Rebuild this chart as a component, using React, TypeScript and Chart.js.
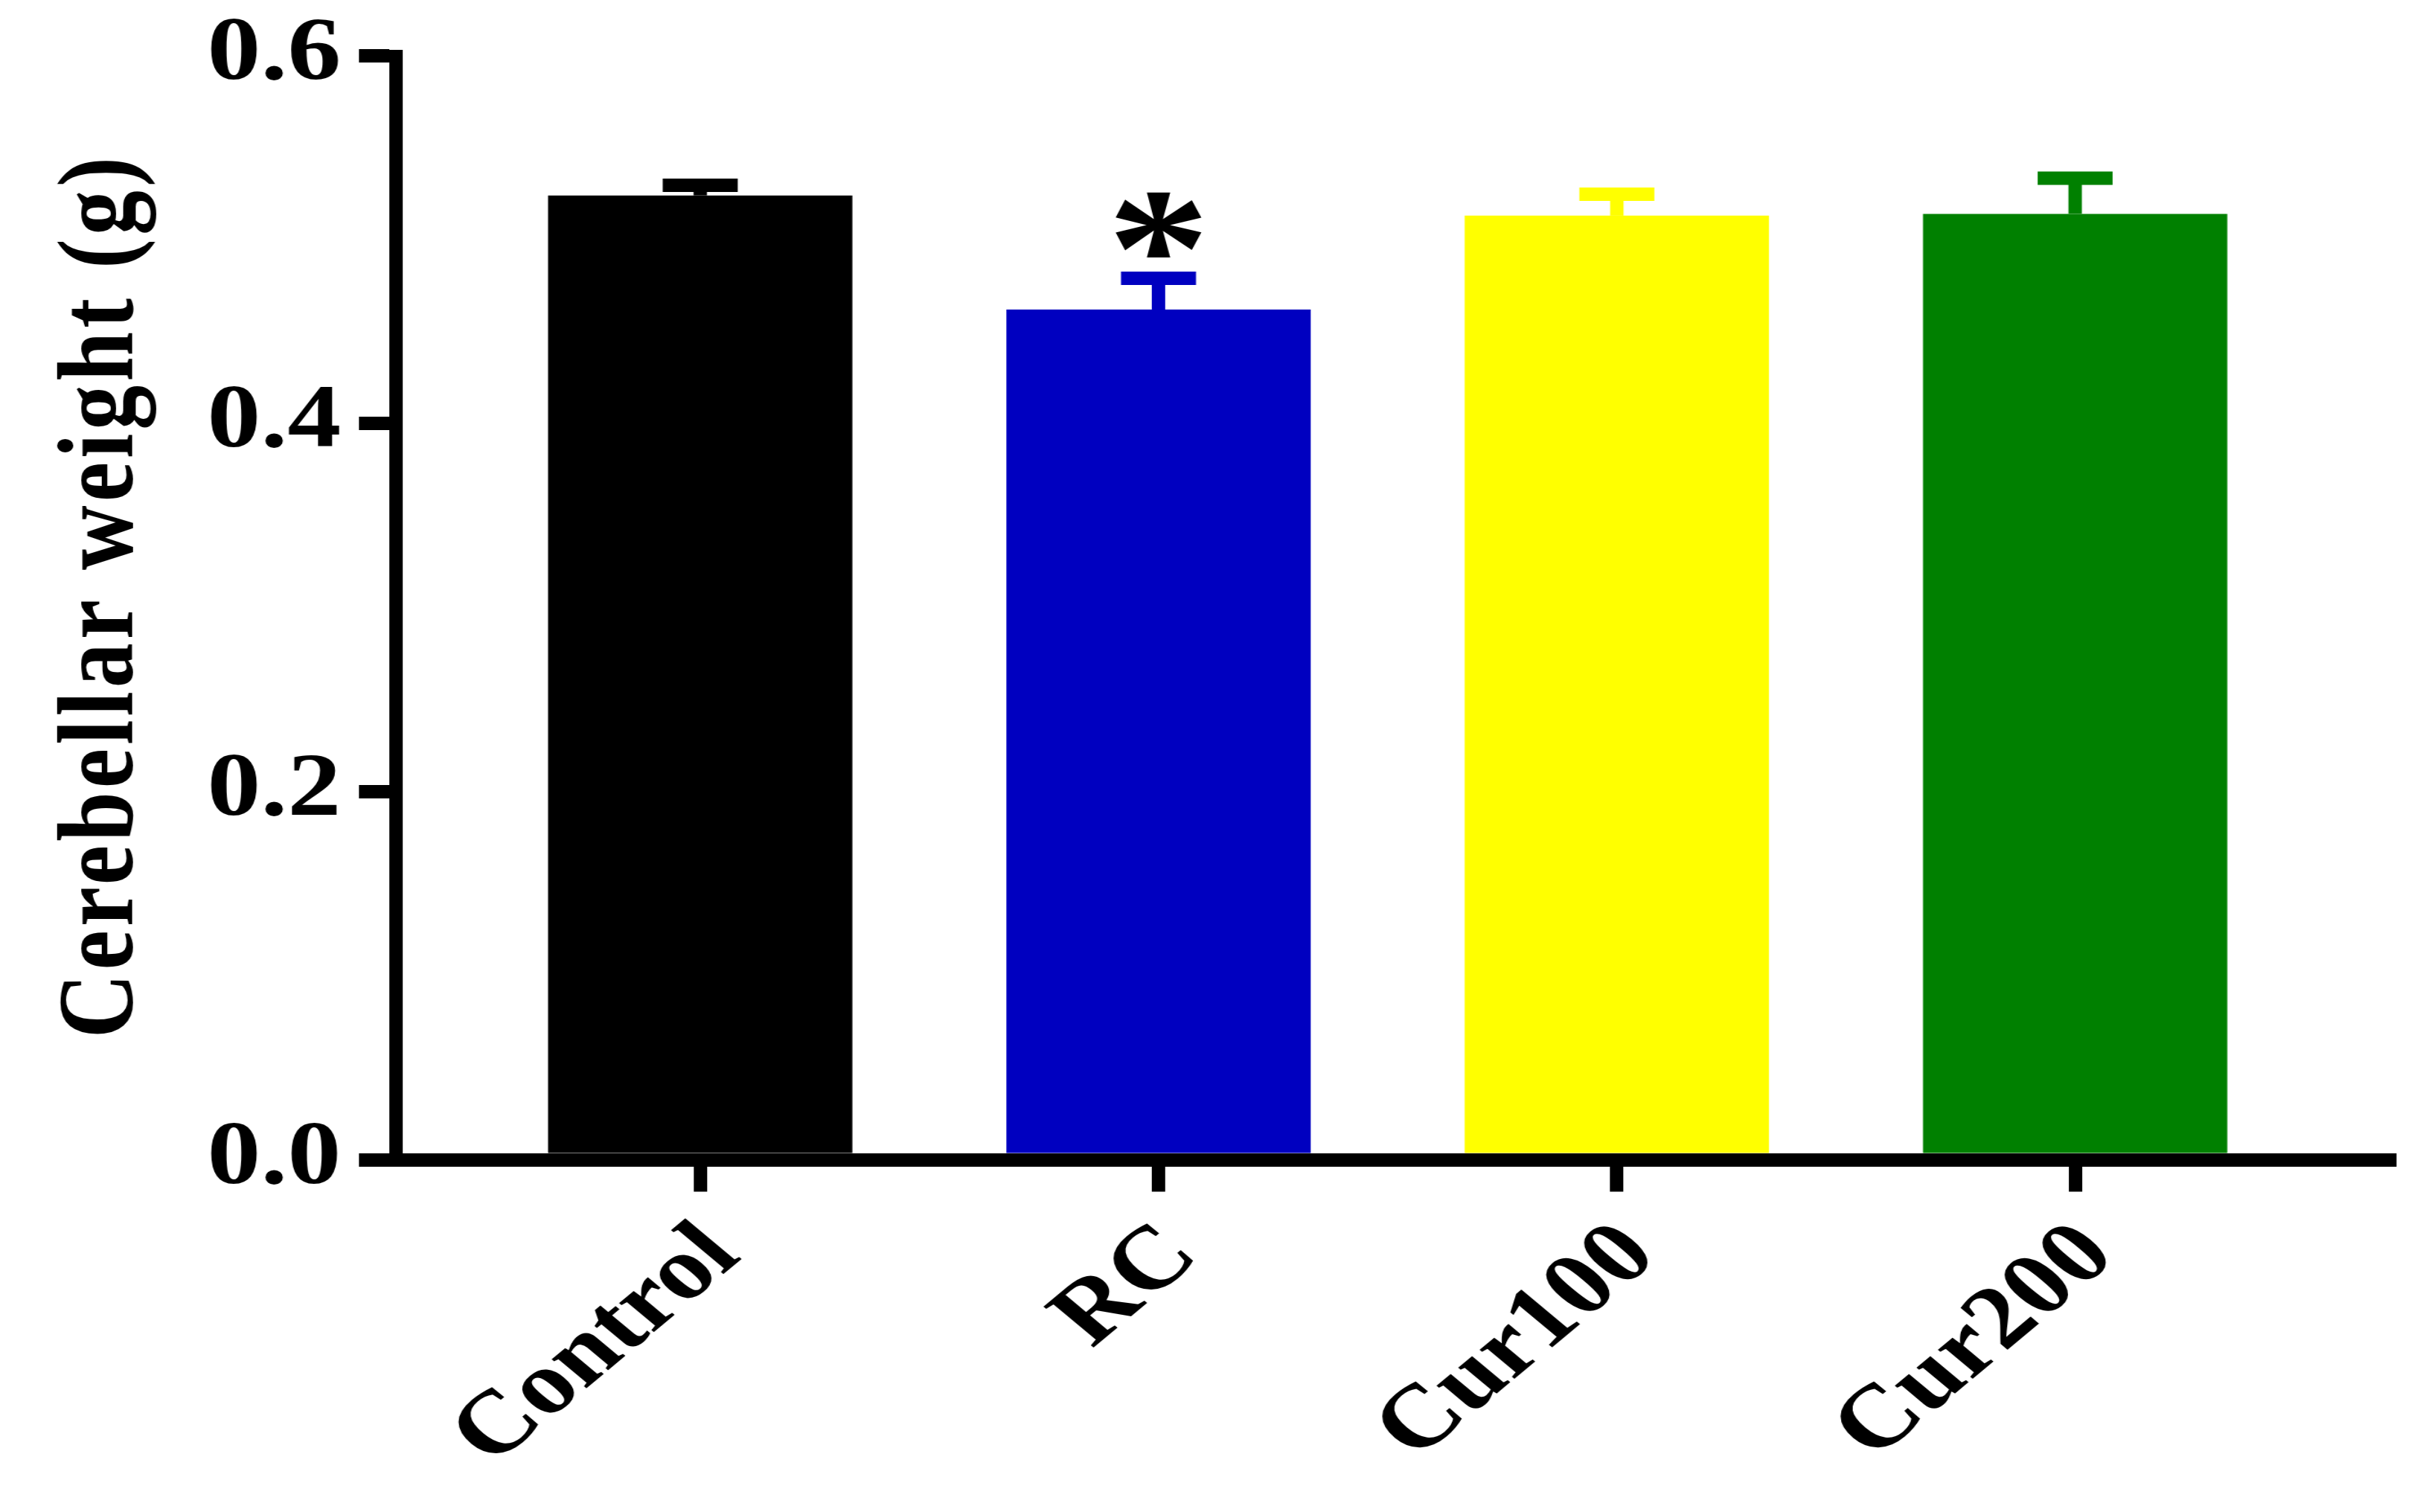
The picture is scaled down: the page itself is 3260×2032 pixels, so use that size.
import React, { useEffect, useRef } from 'react';
import { Chart, registerables } from 'chart.js';

Chart.register(...registerables);

// ---- data ----
const categories = ['Control', 'RC', 'Cur100', 'Cur200'];
const means = [0.524, 0.462, 0.513, 0.514];
const sems = [0.0055, 0.017, 0.0117, 0.0194];
const barColors = ['#000000', '#0000C0', '#FFFF00', '#008000'];
const significance = ['', '*', '', ''];
const yTicks = [0, 0.2, 0.4, 0.6];
const yTitle = 'Cerebellar weight (g)';

// ---- layout (the reference figure is stretched horizontally) ----
const OUT_W = 3260;
const OUT_H = 2032;
const STRETCH = 1.2;
const W = Math.round(OUT_W / STRETCH);
const AREA_LEFT = 443.4;
const AREA_RIGHT = 2676.7;
const AREA_TOP = 74.7;
const AREA_BOTTOM = 1558.5;
const TITLE_SHIFT = -16;

const FONT_FAMILY = '"Liberation Serif", "Times New Roman", Tinos, serif';
const tickFont = { family: FONT_FAMILY, weight: 'bold' as const, size: 120 };
const titleFont = { family: FONT_FAMILY, weight: 'bold' as const, size: 120 };

const H_LINE = 18;
const V_LINE = H_LINE / STRETCH;
const CAP_HALF = 42;

const errorBarPlugin = {
  id: 'errorBars',
  afterDatasetsDraw(chart: any) {
    const ctx = chart.ctx as CanvasRenderingContext2D;
    const meta = chart.getDatasetMeta(0);
    const yScale = chart.scales.y;
    meta.data.forEach((bar: any, i: number) => {
      const x = bar.x;
      const yTop = bar.y;
      const yErr = yScale.getPixelForValue(means[i] + sems[i]);
      ctx.save();
      ctx.strokeStyle = barColors[i];
      ctx.lineCap = 'butt';
      ctx.lineWidth = V_LINE;
      ctx.beginPath();
      ctx.moveTo(x, yTop);
      ctx.lineTo(x, yErr);
      ctx.stroke();
      ctx.lineWidth = H_LINE;
      ctx.beginPath();
      ctx.moveTo(x - CAP_HALF, yErr);
      ctx.lineTo(x + CAP_HALF, yErr);
      ctx.stroke();
      if (significance[i]) {
        ctx.fillStyle = '#000000';
        ctx.font = `bold 230px ${FONT_FAMILY}`;
        ctx.textAlign = 'center';
        ctx.textBaseline = 'alphabetic';
        ctx.fillText(significance[i], x, yErr + 37);
      }
      ctx.restore();
    });
  },
};

export default function App() {
  const ref = useRef<HTMLCanvasElement>(null);

  useEffect(() => {
    const canvas = ref.current;
    if (!canvas) return;
    let alive = true;
    const chart = new Chart(canvas, {
      type: 'bar',
      data: {
        datasets: [
          {
            data: means.map((v, i) => ({ x: i, y: v })),
            backgroundColor: barColors,
            borderWidth: 0,
            barPercentage: 0.664,
            categoryPercentage: 1,
          },
        ],
      },
      options: {
        responsive: false,
        animation: false,
        devicePixelRatio: 1,
        layout: {
          padding: { left: 0, top: AREA_TOP, right: W - AREA_RIGHT, bottom: 0 },
        },
        plugins: {
          legend: { display: false },
          tooltip: { enabled: false },
        },
        scales: {
          x: {
            type: 'linear',
            min: -0.664,
            max: 3.687,
            offset: false,
            bounds: 'data',
            afterBuildTicks: (s: any) => {
              s.ticks = categories.map((_, i) => ({ value: i }));
            },
            afterFit: (s: any) => {
              s.height = OUT_H - AREA_BOTTOM;
              s.paddingLeft = 0;
              s.paddingRight = 0;
            },
            grid: {
              offset: false,
              drawOnChartArea: false,
              drawTicks: true,
              tickLength: 43,
              tickWidth: V_LINE,
              lineWidth: V_LINE,
              tickColor: '#000000',
              color: '#000000',
            },
            border: { display: true, color: '#000000', width: H_LINE, z: 1 },
            ticks: {
              autoSkip: false,
              minRotation: 45,
              maxRotation: 45,
              padding: 16,
              labelOffset: 26,
              color: '#000000',
              font: tickFont,
              z: 1,
              callback: (v: any) => categories[Number(v)] ?? '',
            },
          },
          y: {
            type: 'linear',
            min: 0,
            max: 0.6,
            afterBuildTicks: (s: any) => {
              s.ticks = yTicks.map((v) => ({ value: v }));
            },
            afterFit: (s: any) => {
              s.width = AREA_LEFT;
              s.paddingTop = 0;
              s.paddingBottom = 0;
            },
            afterUpdate: (s: any) => {
              if (s.__titleWrapped) return;
              const original = s.drawTitle;
              s.drawTitle = function () {
                const ctx = this.ctx;
                ctx.save();
                ctx.letterSpacing = '5px';
                ctx.translate(0, TITLE_SHIFT);
                original.call(this);
                ctx.restore();
              };
              s.__titleWrapped = true;
            },
            grid: {
              drawOnChartArea: false,
              drawTicks: true,
              tickLength: 41.4,
              tickWidth: H_LINE,
              lineWidth: H_LINE,
              tickColor: '#000000',
              color: '#000000',
            },
            border: { display: true, color: '#000000', width: V_LINE, z: 1 },
            ticks: {
              padding: 20,
              color: '#000000',
              font: tickFont,
              z: 1,
              callback: (v: any) => Number(v).toFixed(1),
            },
            title: {
              display: true,
              text: yTitle,
              color: '#000000',
              font: titleFont,
              padding: { top: 44.5, bottom: 0 },
            },
          },
        },
      } as any,
      plugins: [errorBarPlugin],
    });

    const fonts = (document as any).fonts;
    const redraw = () => {
      if (alive) chart.update('none');
    };
    if (fonts && fonts.load) {
      fonts.load('bold 120px "Liberation Serif"').then(redraw, redraw);
    }

    return () => {
      alive = false;
      chart.destroy();
    };
  }, []);

  return (
    <canvas
      ref={ref}
      width={W}
      height={OUT_H}
      style={{
        position: 'fixed',
        left: 0,
        top: 0,
        width: `${OUT_W}px`,
        height: `${OUT_H}px`,
        background: '#ffffff',
      }}
    />
  );
}
